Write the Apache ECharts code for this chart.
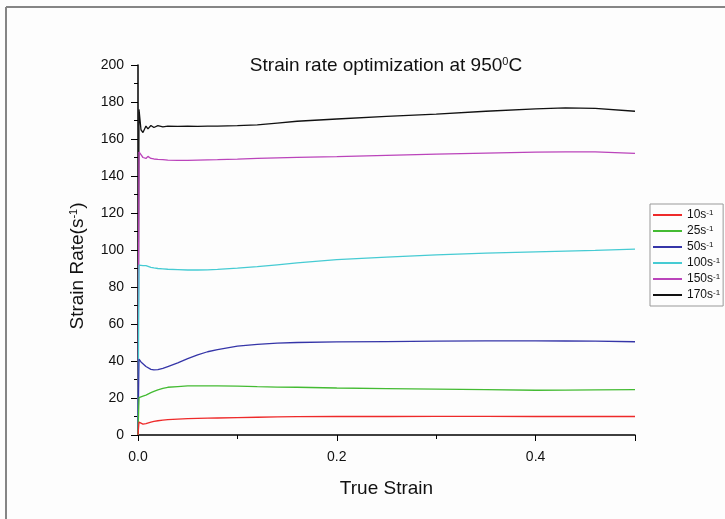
<!DOCTYPE html>
<html>
<head>
<meta charset="utf-8">
<script src="https://cdn.jsdelivr.net/npm/echarts@6/dist/echarts.min.js"></script>
<style>
  html, body { margin: 0; padding: 0; background: #fdfdfd; }
  #chart { width: 725px; height: 519px; }
</style>
</head>
<body>
<div id="chart"></div>
<script>
// true strain (x) shared by all curves
var strain = [0, 0.001, 0.003, 0.005, 0.008, 0.01, 0.013, 0.016, 0.02, 0.025, 0.03, 0.04, 0.05, 0.06,
  0.07, 0.08, 0.1, 0.12, 0.14, 0.16, 0.2, 0.25, 0.3, 0.35, 0.4, 0.43, 0.46, 0.5]

var rate10 = [0, 7, 6.2, 5.9, 6.2, 6.6, 7, 7.4, 7.7, 8, 8.3, 8.6, 8.8, 9, 9.1, 9.2, 9.4, 9.6, 9.8, 9.9,
  10, 10, 10.1, 10.1, 10, 10, 10, 10]
var rate25 = [0, 20.2, 20.5, 21, 21.6, 22.2, 22.9, 23.6, 24.4, 25.2, 25.8, 26.2, 26.5, 26.6, 26.6, 26.6,
  26.4, 26.1, 25.9, 25.8, 25.4, 25.1, 24.8, 24.5, 24.2, 24.3, 24.4, 24.5]
var rate50 = [0, 41, 39.5, 38.5, 37, 36.2, 35.5, 35.2, 35.3, 36, 37, 39, 41.3, 43.3, 45, 46.2, 48, 49,
  49.7, 50, 50.3, 50.5, 50.7, 50.9, 50.9, 50.8, 50.7, 50.4]
var rate100 = [0, 91.8, 91.5, 91.5, 91.6, 90.8, 90.6, 90.3, 90, 89.8, 89.6, 89.4, 89.2, 89.2, 89.3, 89.5,
  90.2, 91, 92, 93, 94.8, 96.2, 97.4, 98.3, 99, 99.4, 99.8, 100.5]
var rate150 = [0, 153, 151.5, 150, 149.5, 150.6, 149.5, 149.2, 149, 148.8, 148.6, 148.5, 148.5, 148.6, 148.7,
  148.8, 149.1, 149.5, 149.8, 150.1, 150.5, 151.2, 151.8, 152.4, 152.9, 153, 153, 152.2]
var rate170 = [0, 176, 165, 163.5, 167, 165.5, 167.3, 166.2, 167.2, 166.5, 167, 166.8, 167, 166.8, 167, 167,
  167.2, 167.6, 168.6, 169.6, 170.8, 172.2, 173.5, 175, 176.3, 176.8, 176.5, 175]

var rateNames = ['10', '25', '50', '100', '150', '170']
var rateData = [rate10, rate25, rate50, rate100, rate150, rate170]
var colors = ['#ee2a2a', '#44bb33', '#3535a8', '#46cbd3', '#bb44bb', '#111111']

function pairs (ys) {
  return ys.map(function (y, i) { return [strain[i], y] })
}

var myChart = echarts.init(document.getElementById('chart'))

var series = rateNames.map(function (n, i) {
  return {
    name: n,
    type: 'line',
    symbol: 'none',
    z: 10 - i, // 低应变率曲线画在上面
    lineStyle: { color: colors[i], width: 1.3 },
    itemStyle: { color: colors[i] },
    data: pairs(rateData[i])
  }
})

myChart.setOption({
  animation: false,
  backgroundColor: '#fdfdfd',
  textStyle: { fontFamily: 'Liberation Sans, Arial, sans-serif' },
  title: {
    left: 381,
    textAlign: 'center',
    top: 51,
    text: '{a|Strain rate optimization at 950}{s|0}{a|C}',
    textStyle: {
      rich: {
        a: { fontSize: 19, fontWeight: 'normal', color: '#111', fontFamily: 'Liberation Sans' },
        s: { fontSize: 11, fontWeight: 'normal', color: '#111', verticalAlign: 'top', fontFamily: 'Liberation Sans' }
      }
    }
  },
  legend: {
    orient: 'vertical',
    left: 650,
    top: 204,
    padding: [5, 3, 5, 3],
    icon: 'rect',
    itemWidth: 29,
    itemHeight: 2,
    itemGap: 4,
    borderColor: '#999',
    borderWidth: 1,
    data: rateNames,
    formatter: function (n) { return '{b|' + n + 's}{s|-1}' },
    textStyle: {
      color: '#111',
      rich: {
        b: { fontSize: 12, lineHeight: 12, fontFamily: 'Liberation Sans' },
        s: { fontSize: 8, lineHeight: 12, verticalAlign: 'top', fontFamily: 'Liberation Sans' }
      }
    }
  },
  grid: {
    left: 138,
    right: 90,
    top: 65,
    bottom: 84
  },
  xAxis: {
    type: 'value',
    min: 0,
    max: 0.5,
    interval: 0.2,
    name: 'True Strain',
    nameLocation: 'middle',
    nameGap: 44,
    nameTextStyle: { fontSize: 19, color: '#111' },
    axisLine: { lineStyle: { color: '#000', width: 1.5 } },
    axisTick: { length: 6, lineStyle: { color: '#000' } },
    minorTick: { show: true, splitNumber: 2, length: 4, lineStyle: { color: '#000' } },
    splitLine: { show: false },
    axisLabel: {
      fontSize: 14,
      color: '#111',
      margin: 15,
      formatter: function (v) { return v > 0.45 ? '' : v.toFixed(1) }
    }
  },
  yAxis: {
    type: 'value',
    min: 0,
    max: 200,
    interval: 20,
    axisLine: { show: true, lineStyle: { color: '#000', width: 1.5 } },
    axisTick: { show: true, length: 7, lineStyle: { color: '#000' } },
    minorTick: { show: true, splitNumber: 2, length: 4, lineStyle: { color: '#000' } },
    splitLine: { show: false },
    axisLabel: { fontSize: 14, color: '#111', margin: 14 }
  },
  graphic: [
    // 外框只有上边和左边
    { type: 'line', shape: { x1: 6, y1: 7, x2: 725, y2: 7 }, style: { stroke: '#858585', lineWidth: 2 } },
    { type: 'line', shape: { x1: 6, y1: 7, x2: 6, y2: 519 }, style: { stroke: '#858585', lineWidth: 2 } },
    {
      type: 'text',
      x: 78,
      y: 266,
      rotation: Math.PI / 2,
      style: {
        text: '{a|Strain Rate(s}{s|-1}{a|)}',
        align: 'center',
        verticalAlign: 'middle',
        rich: {
          a: { fontSize: 19, fill: '#111', fontFamily: 'Liberation Sans' },
          s: { fontSize: 11, fill: '#111', verticalAlign: 'top', fontFamily: 'Liberation Sans' }
        }
      }
    }
  ],
  series: series
})
</script>
</body>
</html>
